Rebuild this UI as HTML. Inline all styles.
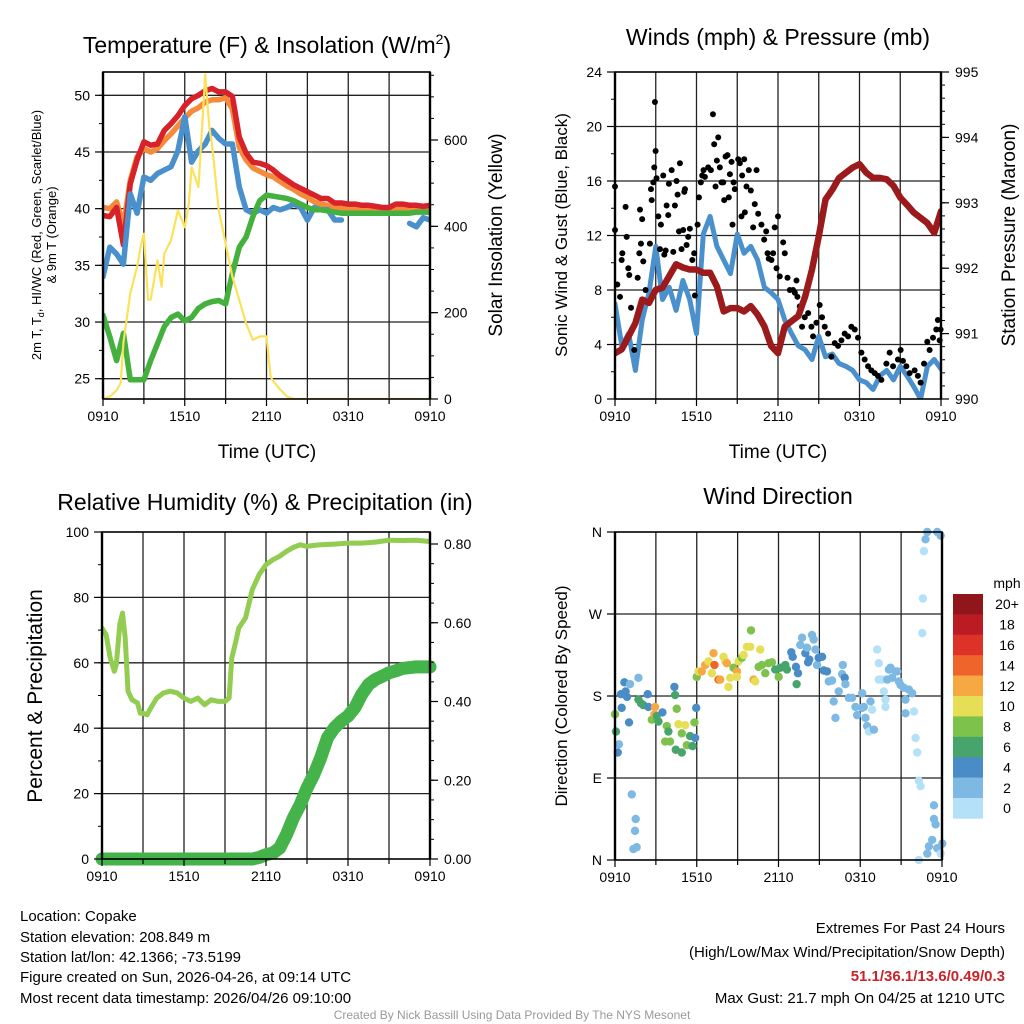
<!DOCTYPE html>
<html><head><meta charset="utf-8"><style>
html,body{margin:0;padding:0;background:#fff;}
svg{display:block;font-family:"Liberation Sans",Arial,sans-serif;}
</style></head><body>
<svg id="fig" width="1024" height="1024" viewBox="0 0 1024 1024" xmlns="http://www.w3.org/2000/svg">
<g id="grids"></g>
<g id="series"></g>
<g id="frames"></g>
<g id="labels" font-size="14" fill="#000">
  <text x="267" y="53" font-size="23" text-anchor="middle">Temperature (F) &amp; Insolation (W/m<tspan dy="-9" font-size="14">2</tspan><tspan dy="9">)</tspan></text>
  <text x="778" y="45" font-size="23" text-anchor="middle">Winds (mph) &amp; Pressure (mb)</text>
  <text x="265" y="510" font-size="23" text-anchor="middle">Relative Humidity (%) &amp; Precipitation (in)</text>
  <text x="778" y="504" font-size="23" text-anchor="middle">Wind Direction</text>
  <text x="267" y="458" font-size="19" text-anchor="middle">Time (UTC)</text>
  <text x="778" y="458" font-size="19" text-anchor="middle">Time (UTC)</text>
  <text transform="translate(41,235) rotate(-90)" font-size="13" text-anchor="middle">2m T, T<tspan font-size="9" dy="3">d</tspan><tspan dy="-3">, HI/WC (Red, Green, Scarlet/Blue)</tspan></text>
  <text transform="translate(56,235) rotate(-90)" font-size="13" text-anchor="middle">&amp; 9m T (Orange)</text>
  <text transform="translate(502,235) rotate(-90)" font-size="19" text-anchor="middle">Solar Insolation (Yellow)</text>
  <text transform="translate(567,235) rotate(-90)" font-size="17" text-anchor="middle">Sonic Wind &amp; Gust (Blue, Black)</text>
  <text transform="translate(1015,235) rotate(-90)" font-size="19" text-anchor="middle">Station Pressure (Maroon)</text>
  <text transform="translate(42,696) rotate(-90)" font-size="21" text-anchor="middle">Percent &amp; Precipitation</text>
  <text transform="translate(567,696) rotate(-90)" font-size="17" text-anchor="middle">Direction (Colored By Speed)</text>
  <g font-size="15">
    <text x="20" y="921">Location: Copake</text>
    <text x="20" y="942">Station elevation: 208.849 m</text>
    <text x="20" y="962">Station lat/lon: 42.1366; -73.5199</text>
    <text x="20" y="982">Figure created on Sun, 2026-04-26, at 09:14 UTC</text>
    <text x="20" y="1003">Most recent data timestamp: 2026/04/26 09:10:00</text>
  </g>
  <g font-size="15" text-anchor="end">
    <text x="1005" y="933">Extremes For Past 24 Hours</text>
    <text x="1005" y="957">(High/Low/Max Wind/Precipitation/Snow Depth)</text>
    <text x="1005" y="981" fill="#cc2229" font-weight="bold">51.1/36.1/13.6/0.49/0.3</text>
    <text x="1005" y="1003">Max Gust: 21.7 mph On 04/25 at 1210 UTC</text>
  </g>
  <text x="512" y="1019" font-size="12" fill="#999" text-anchor="middle">Created By Nick Bassill Using Data Provided By The NYS Mesonet</text>
</g>
<g id="legend"></g>
</svg>
<script>
// ---------- DATA ----------
const hoursHalf = [0,0.5,1,1.5,2,2.5,3,3.5,4,4.5,5,5.5,6,6.5,7,7.5,8,8.5,9,9.5,10,10.5,11,11.5,12,12.5,13,13.5,14,14.5,15,15.5,16,16.5,17,17.5,18,18.5,19,19.5,20,20.5,21,21.5,22,22.5,23,23.5,24];
const xTickLabels = ["0910","1510","2110","0310","0910"];
const tempRed = [39.4,39.3,40.1,36.8,42.2,44.3,45.9,45.6,45.7,46.9,47.5,48.2,49.1,49.7,50.0,50.4,50.6,50.3,50.3,49.9,46.3,44.9,44.1,44.0,43.8,43.4,42.9,42.5,42.1,41.8,41.5,41.2,40.9,40.9,40.5,40.5,40.4,40.4,40.3,40.3,40.2,40.1,40.1,40.4,40.4,40.3,40.3,40.2,40.3];
const temp9m = [40.1,40.0,40.6,38.5,42.5,44.6,45.3,45.0,45.3,46.0,46.6,47.3,48.0,48.6,48.9,49.4,49.6,49.6,49.8,48.8,45.4,44.3,43.6,43.3,43.0,42.8,42.4,42.0,41.7,41.3,41.0,40.6,40.4,40.3,40.1,40.0,40.0,40.0,39.9,39.9,39.8,39.8,39.8,39.9,40.0,40.0,40.0,40.0,39.9];
const tempHIWC = [34.0,36.6,36.0,35.1,41.3,39.6,42.8,42.5,43.1,43.4,43.7,45.1,48.1,44.1,45.1,45.7,46.9,46.2,45.7,45.7,41.9,39.9,39.6,39.9,39.6,40.1,39.9,40.1,40.4,40.1,39.0,40.1,39.9,39.9,39.0,39.0,null,null,null,null,null,null,null,null,null,38.7,38.4,39.2,39.0];
const tempDew = [30.6,28.7,26.6,29.0,24.9,24.9,24.9,26.6,28.1,29.6,30.4,30.7,30.1,30.4,31.2,31.6,31.8,31.9,31.6,34.3,36.6,37.5,39.3,40.7,41.2,41.1,41.0,40.9,40.7,40.4,40.1,39.9,39.9,39.8,39.7,39.6,39.6,39.6,39.6,39.6,39.6,39.6,39.6,39.6,39.6,39.6,39.7,39.7,39.7];
const solarHours = [0,0.5,1,1.3,1.5,2,2.5,2.8,3,3.3,3.5,4,4.3,4.5,5,5.5,6,6.3,6.5,7,7.2,7.5,7.8,8,8.5,9,9.5,10,10.5,11,11.5,12,12.3,12.5,13,13.5,14,24];
const solarVals = [0,6,20,37,130,245,306,360,383,230,230,321,260,337,368,437,398,452,537,491,590,752,630,590,437,360,283,229,175,137,145,145,52,41,22,6,0,0];
const windSpeed = [7.0,3.9,4.8,2.1,5.8,7.8,11.2,7.3,8.2,6.5,8.7,7.3,4.8,12.1,13.4,11.2,10.2,9.2,12.1,10.7,11.2,10.2,8.2,7.8,7.3,5.8,4.8,3.9,3.6,2.9,4.6,3.1,3.3,2.6,2.4,2.1,1.4,1.2,0.7,1.7,2.1,1.4,2.4,1.7,0.9,0.0,2.4,2.9,2.2];
const gustHours = [0,0,0.17,0.37,0.49,0.54,0.78,0.86,0.98,1.05,1.18,1.42,1.67,1.84,2.0,1.79,1.91,2.08,2.25,2.57,2.65,2.7,2.82,2.89,2.94,2.99,3.06,3.19,3.31,3.38,3.55,3.63,3.73,3.8,3.92,3.97,4.17,4.29,4.41,4.53,4.61,4.71,4.78,4.9,5.02,5.1,5.15,5.27,5.39,5.51,5.69,5.83,5.88,6.08,6.18,6.32,6.42,6.52,6.62,6.86,7.06,7.21,7.3,7.4,7.6,7.5,7.72,7.84,7.97,8.04,8.14,8.28,8.38,8.46,8.58,8.65,8.73,8.82,9.07,9.19,9.31,9.36,9.51,9.56,9.68,9.85,10.0,10.17,10.29,10.42,10.54,10.78,10.98,11.13,11.23,11.32,11.52,11.64,11.76,11.89,12.0,12.13,12.38,12.5,12.7,12.87,13.11,13.36,13.24,13.43,13.6,13.77,13.97,14.22,14.46,14.58,14.83,15.07,15.24,15.44,15.69,15.93,16.18,16.42,16.67,16.91,17.16,17.4,17.65,17.89,18.14,18.38,18.63,18.87,19.12,19.36,19.61,19.98,20.22,20.47,20.83,21.03,21.2,21.45,21.69,22.06,22.3,22.5,22.75,22.99,23.16,23.41,23.65,23.77,23.9,23.97];
const gustVals = [15.6,12.4,8.4,7.5,10.2,10.7,14.1,11.9,9.6,9.1,6.7,3.6,8.9,13.9,13.2,10.7,11.4,10.1,8.0,11.4,15.4,14.6,15.9,17.0,21.8,18.2,16.2,13.4,11.0,12.8,16.4,10.6,10.9,14.2,13.5,15.8,16.8,10.8,14.2,16.0,15.0,12.3,17.3,11.0,12.4,15.2,15.4,11.3,11.9,12.5,10.2,10.7,7.6,12.8,14.8,15.9,16.4,16.8,16.3,17.0,16.8,20.9,18.7,15.6,19.2,17.5,17.0,15.9,15.9,14.6,17.8,17.9,14.8,16.5,17.4,12.8,15.9,15.4,17.6,17.3,13.4,16.4,17.6,13.7,15.6,16.8,15.3,12.6,14.3,16.8,13.6,12.8,11.7,12.3,10.7,10.3,10.2,10.7,12.6,9.6,13.4,9.0,11.5,10.7,8.9,8.0,8.0,8.7,7.8,7.5,6.8,5.3,6.0,6.3,5.3,4.6,5.6,6.9,6.0,5.3,4.8,3.1,4.1,3.9,4.3,4.8,4.6,5.3,5.1,4.5,3.4,2.9,2.4,2.1,1.9,1.7,1.4,2.6,3.4,2.4,2.9,3.6,2.8,2.4,1.9,2.1,1.7,1.2,2.6,4.2,3.6,4.5,5.1,5.8,4.3,5.1];
const pressure = [990.70,990.76,990.96,991.16,991.52,991.47,991.67,991.70,991.88,992.06,992.01,991.98,991.98,991.93,991.93,991.72,991.34,991.39,991.39,991.34,991.42,991.29,991.11,990.81,990.70,991.11,991.19,991.27,991.57,991.98,992.49,993.05,993.20,993.38,993.46,993.54,993.59,993.46,993.38,993.38,993.36,993.26,993.08,992.97,992.85,992.77,992.69,992.54,992.87];
const rhHours = [0,0.3,0.6,0.9,1.05,1.3,1.5,1.7,1.9,2.2,2.6,2.8,3,3.3,3.5,4,4.5,5,5.5,6,6.5,7,7.5,8,8.5,9,9.3,9.5,9.8,10,10.5,11,11.5,12,12.5,13,13.5,14,14.5,15,15.5,16,17,18,19,20,21,22,23,24];
const rhVals = [70.6,68.6,61.5,57.4,59.5,71.7,75.2,67.6,51.3,48.7,47.7,44.6,44.6,44.1,45.7,49.2,50.8,51.3,50.8,49.2,48.2,49.2,47.2,48.7,48.2,48.2,49.2,61.5,66.6,70.6,73.7,82.4,87.0,90.0,91.5,92.6,94.1,95.3,96.1,95.6,95.9,96.1,96.3,96.6,96.6,96.9,97.5,97.4,97.5,97.1];
const precip = [0,0,0,0,0,0,0,0,0,0,0,0,0,0,0,0,0,0,0,0,0,0,0,0.004,0.011,0.015,0.028,0.062,0.104,0.138,0.18,0.214,0.257,0.308,0.333,0.35,0.363,0.384,0.418,0.443,0.456,0.464,0.473,0.478,0.484,0.486,0.488,0.488,0.488];
const dirHours = [0.00,0.07,0.20,0.29,0.49,0.44,0.69,0.78,0.88,1.10,1.03,1.72,1.72,1.91,2.08,2.40,2.45,2.70,2.94,2.89,3.06,3.48,3.19,3.80,3.92,4.04,3.68,4.41,4.36,4.53,4.66,4.90,5.15,5.27,4.90,4.46,5.51,5.69,5.83,5.88,5.96,1.23,1.52,1.47,1.35,1.59,6.00,6.13,6.37,6.62,6.86,7.11,7.23,7.30,7.60,7.72,7.97,8.09,8.21,8.33,8.46,8.70,8.95,8.95,9.07,9.31,9.44,9.68,9.93,9.98,10.17,10.29,10.66,10.54,10.78,11.03,11.27,11.52,11.76,12.01,12.13,12.50,12.62,12.94,13.04,13.33,13.43,13.28,13.60,13.73,13.97,14.09,14.17,14.26,14.46,14.58,14.71,14.83,14.95,15.20,15.32,15.56,15.69,15.93,16.05,16.18,16.42,16.67,16.72,16.86,16.91,17.16,17.40,17.65,17.77,18.14,18.14,18.26,18.38,18.50,18.63,18.75,18.87,19.00,19.24,19.36,19.36,19.61,19.73,19.85,19.85,19.98,20.10,20.22,20.34,20.59,20.71,20.83,20.96,21.20,21.32,21.32,21.57,21.81,21.94,22.06,22.18,22.30,22.43,22.55,22.60,22.67,22.79,22.92,23.65,23.90,23.41,23.41,23.53,23.28,23.04,22.92,23.65,24.02,23.90,22.30];
const dirDeg = [160,141,118,127,167,182,195,185,179,193,151,200,176,172,170,182,168,154,168,160,158,162,152,147,141,130,130,181,190,166,149,139,148,126,118,121,136,125,151,134,167,72,45,32,12,14,201,207,207,214,218,205,227,214,198,198,223,218,216,190,200,211,207,201,218,222,225,234,234,252,198,196,231,212,214,205,216,217,209,201,211,214,209,228,223,193,205,212,236,244,227,233,217,220,247,242,231,214,222,223,208,207,196,197,174,156,185,204,214,200,193,178,178,168,159,183,167,168,156,147,141,174,165,143,231,216,198,198,185,176,168,198,209,211,200,207,207,196,192,189,176,161,187,183,163,134,118,87,81,249,287,339,352,360,360,356,60,45,39,22,15,7,13,18,7,0];
const dirSpeed = [9,7,5,3,5,5,5,5,5,3,5,3,7,7,7,5,5,9,13,13,7,5,7,9,7,9,9,7,5,9,11,9,11,9,7,7,7,7,9,5,5,3,3,3,3,3,9,11,13,13,11,11,13,15,15,13,11,11,13,11,11,9,13,11,11,9,11,11,11,9,13,11,11,9,9,9,9,9,7,9,7,7,7,5,5,7,5,5,3,3,5,3,5,5,3,3,3,3,5,5,5,5,3,3,3,3,3,3,3,5,3,3,3,3,3,3,3,3,3,3,1,3,1,3,1,1,1,1,1,1,1,3,3,3,3,3,3,3,3,3,3,3,3,3,1,1,1,1,1,1,1,1,3,3,3,3,3,3,3,3,3,3,3,3,1];
const speedBins = ["20+","18","16","14","12","10","8","6","4","2","0"];
const speedColors = ["#90161a","#bb1c23","#dc3228","#ef642a","#f6a843","#e6df56","#7dc24a","#47a56b","#4a8cc6","#7db9e3","#b4e1f7"];
const tempTicks = [25,30,35,40,45,50];
const solarTicks = [0,200,400,600];
const windTicks = [0,4,8,12,16,20,24];
const presTicks = [990,991,992,993,994,995];
const rhTicks = [0,20,40,60,80,100];
const precipTicks = [0,0.2,0.4,0.6,0.8];
const dirTicks = [0,90,180,270,360];
const dirTickLabels = ["N","E","S","W","N"];

// ---------- HELPERS ----------
const NS = "http://www.w3.org/2000/svg";
function mk(tag, attrs, parent){const e=document.createElementNS(NS,tag);for(const k in attrs)e.setAttribute(k,attrs[k]);parent.appendChild(e);return e;}
const G = document.getElementById('grids'), S = document.getElementById('series'), F = document.getElementById('frames'), L = document.getElementById('legend');
function linScale(d0,d1,r0,r1){return v=>r0+(v-d0)/(d1-d0)*(r1-r0);}

const P1={x0:103,x1:430,y0:72,y1:399};
const P2={x0:615,x1:941,y0:72,y1:399};
const P3={x0:102,x1:430,y0:532,y1:859};
const P4={x0:615,x1:942,y0:532,y1:860};
for(const p of [P1,P2,P3,P4]) p.x=linScale(0,24,p.x0,p.x1);
P1.yl=linScale(50,25,95.3,378.7); P1.yr=linScale(0,600,399,140);
P2.yl=linScale(0,24,399,72); P2.yr=linScale(990,995,399,72);
P3.yl=linScale(0,100,859,532); P3.yr=linScale(0,0.8,859,544);
P4.yl=linScale(0,360,860,532);

function panelFrame(p,name,leftTicks,leftLabels,leftMinor,rightTicks,rightLabels,rightMinor,hGrid){
  for(let h=3;h<24;h+=3){
    const l=mk('line',{x1:p.x(h),x2:p.x(h),y1:p.y0,y2:p.y1,stroke:'#222','stroke-width':1.3},G);
    
    
  }
  for(const v of hGrid){
    const y=p.yl(v);
    const l=mk('line',{x1:p.x0,x2:p.x1,y1:y,y2:y,stroke:'#222','stroke-width':1.3},G);
    
    
  }
  const fr=mk('rect',{x:p.x0,y:p.y0,width:p.x1-p.x0,height:p.y1-p.y0,fill:'none',stroke:'#000','stroke-width':1.6},F);
  
  
  mk('line',{x1:p.x0,x2:p.x0,y1:p.y0,y2:p.y1,stroke:'#000','stroke-width':2.4},F);
  mk('line',{x1:p.x1,x2:p.x1,y1:p.y0,y2:p.y1,stroke:'#000','stroke-width':2.4},F);
  for(let h=0;h<=24;h+=3){
    mk('line',{x1:p.x(h),x2:p.x(h),y1:p.y1,y2:p.y1+(h%6===0?7:5),stroke:'#000','stroke-width':1.2},F);
  }
  xTickLabels.forEach((t,i)=>{
    const tx=mk('text',{x:p.x(i*6),y:p.y1+22,'font-size':14,'text-anchor':'middle'},F);
    tx.textContent=t;
    
    
  });
  leftTicks.forEach((v,i)=>{
    const y=p.yl(v);
    mk('line',{x1:p.x0-8,x2:p.x0,y1:y,y2:y,stroke:'#000','stroke-width':1.2},F);
    const tx=mk('text',{x:p.x0-13,y:y+5,'font-size':14,'text-anchor':'end'},F);
    tx.textContent=leftLabels[i];
    
    
  });
  for(const v of leftMinor){const y=p.yl(v);if(y>=p.y0&&y<=p.y1)mk('line',{x1:p.x0-4,x2:p.x0,y1:y,y2:y,stroke:'#000','stroke-width':1},F);}
  if(rightTicks){
    rightTicks.forEach((v,i)=>{
      const y=p.yr(v);
      mk('line',{x1:p.x1,x2:p.x1+8,y1:y,y2:y,stroke:'#000','stroke-width':1.2},F);
      const tx=mk('text',{x:p.x1+14,y:y+5,'font-size':14,'text-anchor':'start'},F);
      tx.textContent=rightLabels[i];
      
      
    });
    for(const v of rightMinor){const y=p.yr(v);if(y>=p.y0&&y<=p.y1)mk('line',{x1:p.x1,x2:p.x1+4,y1:y,y2:y,stroke:'#000','stroke-width':1},F);}
  }
}
function range(a,b,s){const r=[];for(let v=a;v<=b+1e-9;v+=s)r.push(+v.toFixed(3));return r;}

panelFrame(P1,'temp',tempTicks,tempTicks.map(String),range(22.5,52.5,2.5),solarTicks,solarTicks.map(String),range(0,750,50),tempTicks);
panelFrame(P2,'wind',windTicks,windTicks.map(String),range(0,24,2),presTicks,presTicks.map(String),range(990,995,0.2),[4,8,12,16,20]);
panelFrame(P3,'rh',rhTicks,rhTicks.map(String),range(0,100,10),precipTicks,precipTicks.map(v=>v.toFixed(2)),range(0,0.8,0.05),[20,40,60,80]);
panelFrame(P4,'dir',dirTicks,dirTickLabels,[],null,null,null,[90,180,270]);

function linePath(xs,ys,fx,fy){
  let d='',pen=false;
  for(let i=0;i<xs.length;i++){
    if(ys[i]===null||ys[i]===undefined){pen=false;continue;}
    d+=(pen?'L':'M')+fx(xs[i]).toFixed(1)+','+fy(ys[i]).toFixed(1);
    pen=true;
  }
  return d;
}
function clipFor(p,id){
  const defs=document.querySelector('defs')||mk('defs',{},document.getElementById('fig'));
  const cp=mk('clipPath',{id:id},defs);
  mk('rect',{x:p.x0,y:p.y0,width:p.x1-p.x0,height:p.y1-p.y0},cp);
  return 'url(#'+id+')';
}
const c1=clipFor(P1,'c1'),c2=clipFor(P2,'c2'),c3=clipFor(P3,'c3'),c4=clipFor(P4,'c4');
function series(d,color,w,clip){
  const a={d:d,fill:'none',stroke:color,'stroke-width':w,'stroke-linejoin':'round','stroke-linecap':'round'};
  if(clip)a['clip-path']=clip;
  return mk('path',a,S);
}

let e;
e=series(linePath(hoursHalf,temp9m,P1.x,P1.yl),'#f58a3a',5.5,c1);


e=series(linePath(hoursHalf,tempRed,P1.x,P1.yl),'#d62228',5.5,c1);


e=series(linePath(hoursHalf,tempHIWC,P1.x,P1.yl),'#4a90cc',5.5,c1);


e=series(linePath(hoursHalf,tempDew,P1.x,P1.yl),'#44b03e',5.5,c1);


e=series(linePath(solarHours,solarVals,P1.x,P1.yr),'#fbe25a',2.2,c1);



e=series(linePath(hoursHalf,windSpeed,P2.x,P2.yl),'#4a90cc',5,c2);


gustHours.forEach((h,i)=>{
  const c=mk('circle',{cx:P2.x(h),cy:P2.yl(gustVals[i]),r:3,fill:'#000'},S);
  
  
});
e=series(linePath(hoursHalf,pressure,P2.x,P2.yr),'#9b1a1c',6.5,c2);



e=series(linePath(rhHours,rhVals,P3.x,P3.yl),'#92cc50',5,c3);


e=series(linePath(hoursHalf,precip,P3.x,P3.yr),'#44b34a',13,null);



function speedColor(s){
  if(s===undefined||s===null||isNaN(s))return speedColors[10];
  if(s>=20)return speedColors[0];
  const idx=10-Math.floor(s/2);
  return speedColors[Math.max(1,Math.min(10,idx))];
}
dirHours.forEach((h,i)=>{
  const c=mk('circle',{cx:P4.x(h),cy:P4.yl(dirDeg[i]),r:4.2,fill:speedColor(dirSpeed[i])},S);
  
  
});

const lt=mk('text',{x:1007,y:588,'font-size':14,'text-anchor':'middle'},L);
lt.textContent='mph';


const bh=20.4;
speedBins.forEach((b,i)=>{
  const y=594+i*bh;
  const r=mk('rect',{x:953,y:y,width:30,height:bh+0.3,fill:speedColors[i]},L);
  
  
  const t=mk('text',{x:1007,y:y+bh/2+5,'font-size':14,'text-anchor':'middle'},L);
  t.textContent=b;
  
  
});
</script>
</body></html>
